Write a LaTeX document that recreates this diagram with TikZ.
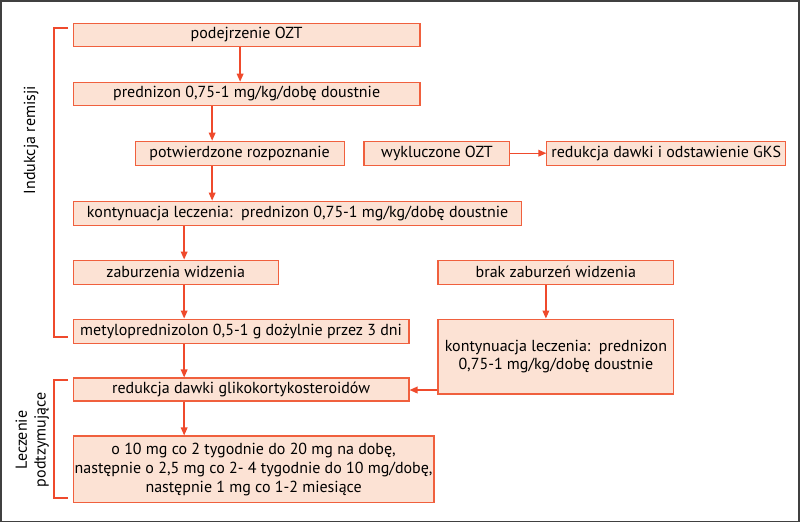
\documentclass[tikz,border=0pt]{standalone}
\usepackage{fontspec}
\setmainfont{PT Sans}
\usetikzlibrary{calc,positioning,arrows.meta}
\definecolor{boxfill}{HTML}{FCE2D4}
\definecolor{boxline}{HTML}{F0603E}
\definecolor{arrowred}{HTML}{EF4A2C}
\begin{document}
\begin{tikzpicture}[x=0.75pt,y=-0.75pt,font=\fontsize{12}{14}\selectfont]

	\tikzset{block/.style={rectangle, draw=boxline, fill=boxfill, line width=0.8pt,
    		inner sep=0pt, align=center}}
	\tikzset{line/.style={draw=arrowred, line width=1pt, -{Triangle[length=6pt,width=5pt]}}}
	\tikzset{bracket/.style={draw=arrowred, line width=1.2pt}}

    % frame
    \draw[black!75, line width=1.2pt] (0.5,0.5) rectangle (799.5,521.5);
    \useasboundingbox (0,0) rectangle (800,522);

    % Place nodes (x1,y1,x2,y2 in px)
    \newcommand{\bx}[6][]{\node[block, minimum width=#4*0.75pt-#2*0.75pt, minimum height=#5*0.75pt-#3*0.75pt-1.5pt] (#6) at ({(#2+#4)/2},{(#3+#5)/2})}
    \bx{73}{22}{420}{47}{suspect} {podejrzenie OZT};
    \bx{73}{81}{420}{106}{pred} {prednizon 0,75-1 mg/kg/dobę doustnie};
    \bx{135}{140}{344}{166}{confirm} {potwierdzone rozpoznanie};
    \bx{364}{140}{510}{166}{exclude} {wykluczone OZT};
    \bx{547}{140}{786}{166}{taper} {redukcja dawki i odstawienie GKS};
    \bx{73}{200}{522}{226}{contin} {kontynuacja leczenia:\ \ prednizon 0,75-1 mg/kg/dobę doustnie};
    \bx{73}{259}{278}{285}{vision} {zaburzenia widzenia};
    \bx{438}{259}{674}{285}{novision} {brak zaburzeń widzenia};
    \bx{73}{318}{409}{344}{methyl} {metyloprednizolon 0,5-1 g dożylnie przez 3 dni};
    \bx{438}{318}{674}{395}{contin_r} {kontynuacja leczenia:\ \ prednizon\\0,75-1 mg/kg/dobę doustnie};
    \bx{73}{377}{409}{402}{reduce} {redukcja dawki glikokortykosteroidów};
    \bx{73}{435}{434}{504}{schedule} {o 10 mg co 2 tygodnie do 20 mg na dobę,\\następnie o 2,5 mg co 2- 4 tygodnie do 10 mg/dobę,\\następnie 1 mg co 1-2 miesiące};

    % Draw edges
    \path [line] (suspect.south -| 240,0) -- (pred.north -| 240,0);
    \path [line] (pred.south -| 212,0) -- (confirm.north -| 212,0);
    \path [line] (confirm.south -| 212,0) -- (contin.north -| 212,0);
    \path [line] (contin.south -| 184,0) -- (vision.north -| 184,0);
    \path [line] (vision.south -| 184,0) -- (methyl.north -| 184,0);
    \path [line] (methyl.south -| 184,0) -- (reduce.north -| 184,0);
    \path [line] (reduce.south -| 184,0) -- (schedule.north -| 184,0);
    \path [line] (exclude) -- (taper);
    \path [line] (novision.south -| 546,0) -- (contin_r.north -| 546,0);
    \path [line] (contin_r.west |- 0,390) -- (reduce.east |- 0,390);

    % brackets
    \draw[bracket] (68,28) -- (54,28) -- (54,337) -- (68,337);
    \draw[bracket] (68,380) -- (54,380) -- (54,498) -- (68,498);
    \node[rotate=90] (induction) at (31,140) {Indukcja remisji};
    \node[rotate=90, align=center] (maintenance) at (32,440) {Leczenie\\podtzymujące};
\end{tikzpicture}
\end{document}
